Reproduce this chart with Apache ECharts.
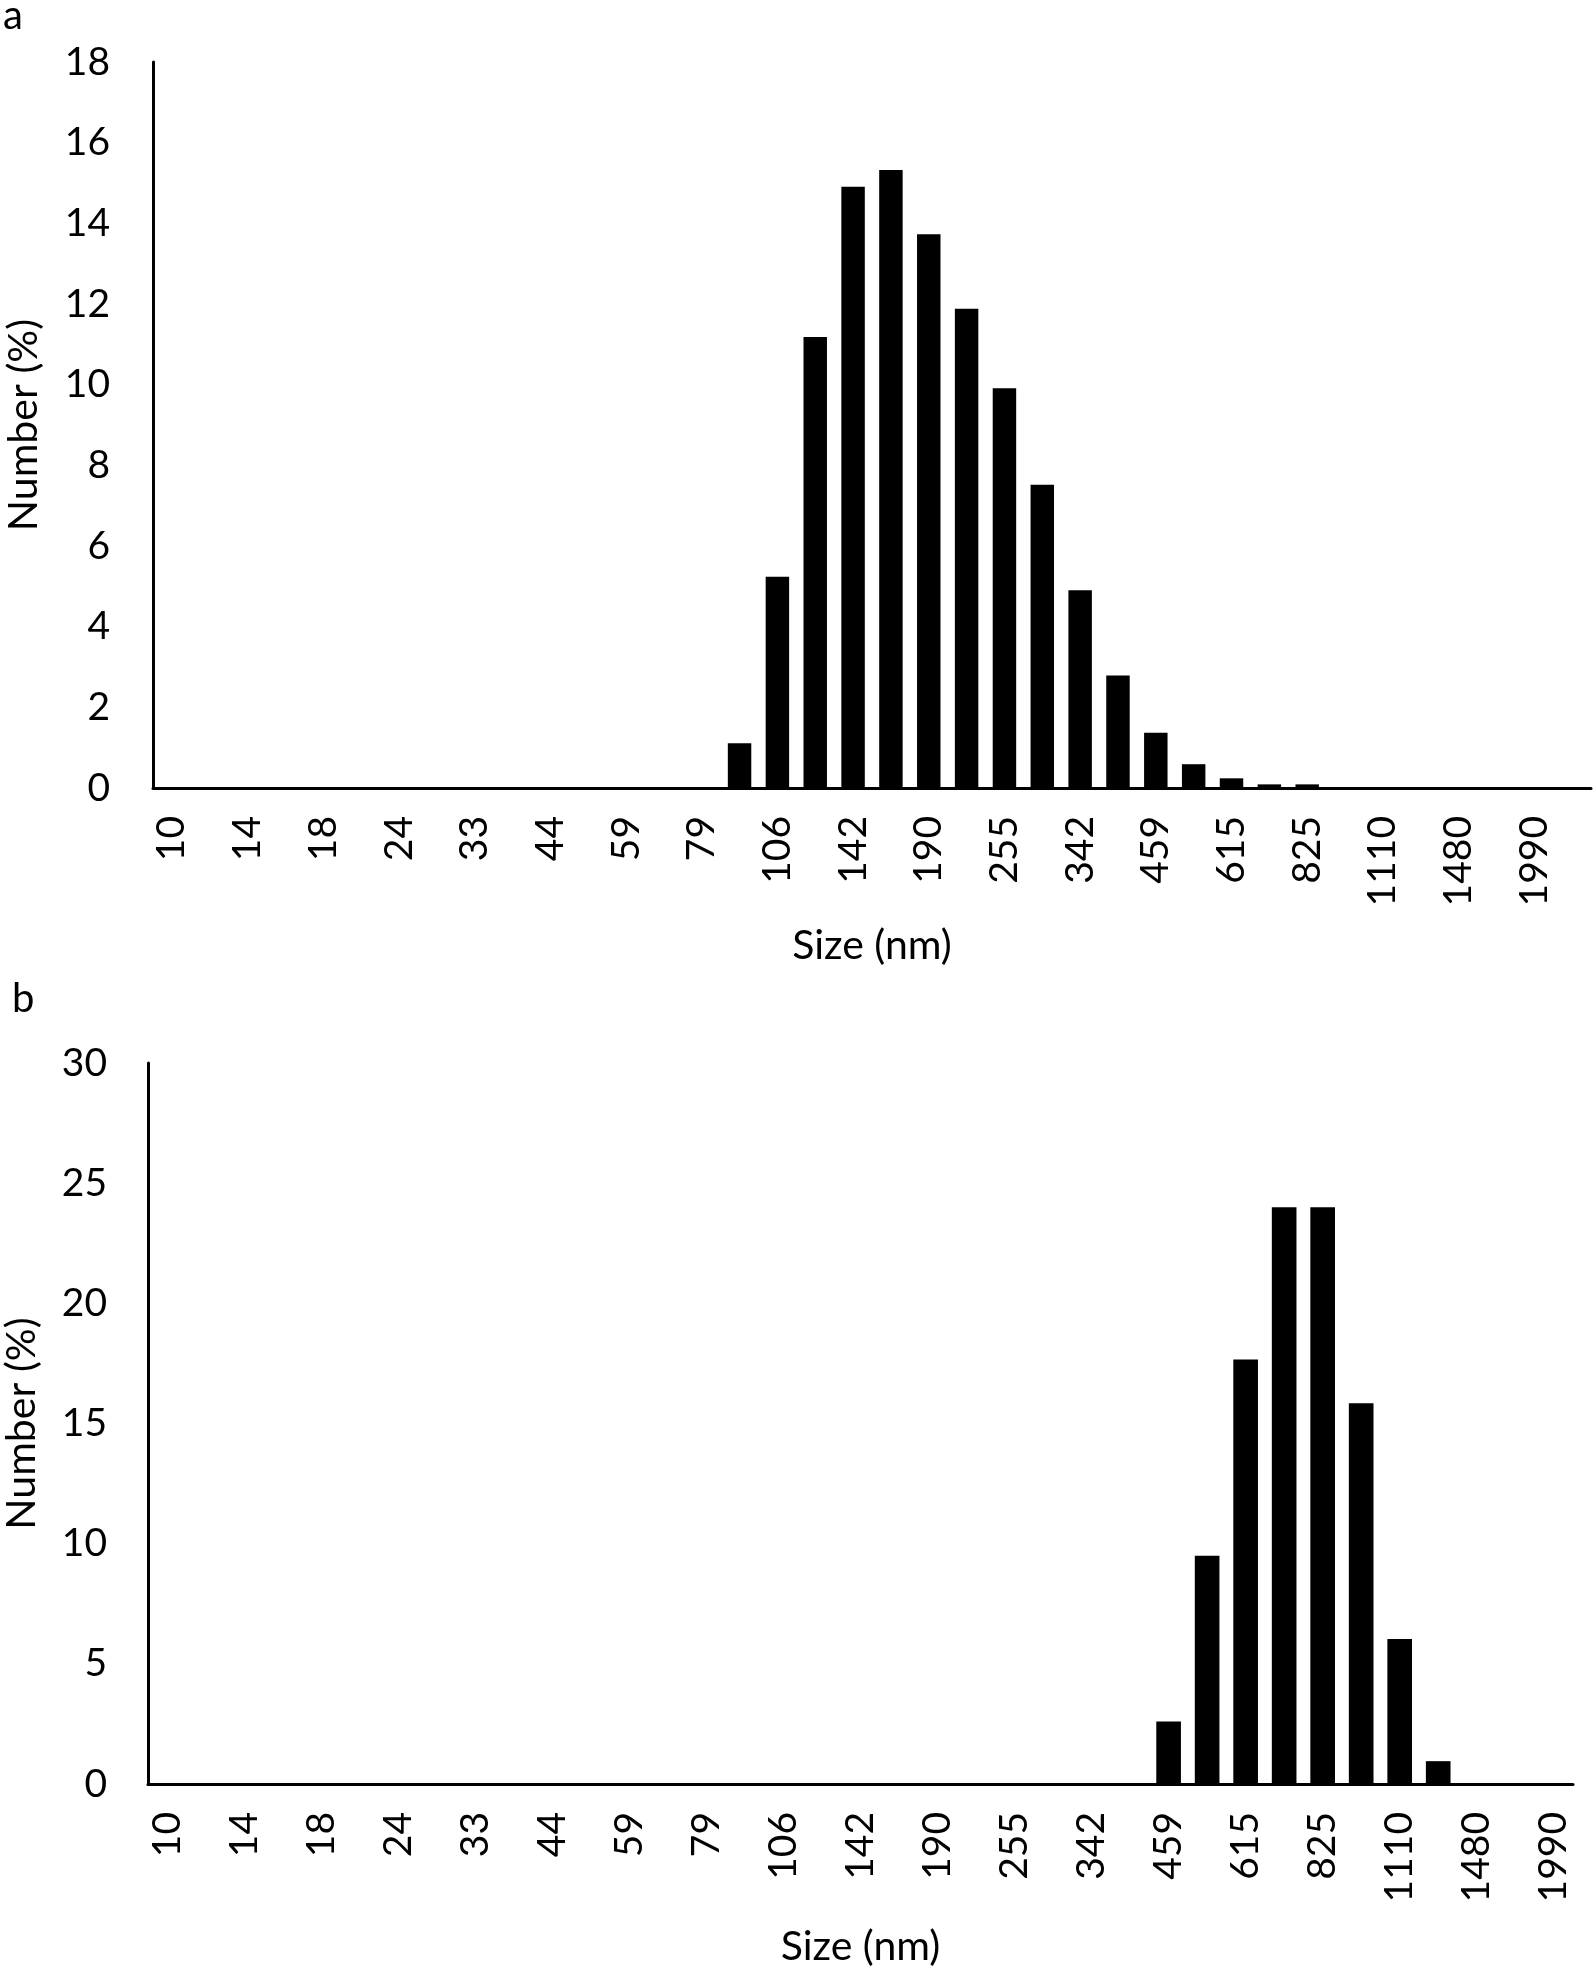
<!DOCTYPE html>
<html>
<head>
<meta charset="utf-8">
<script src="https://cdn.jsdelivr.net/npm/echarts@6/dist/echarts.min.js"></script>
<style>
html,body{margin:0;padding:0;background:#fff;}
#c{width:1594px;height:1975px;}
</style>
</head>
<body>
<div id="c"></div>
<script>
// Size bins (nm) — panel a has 38 bins, panel b 37 bins
const sizesA = ['10','12','14','16','18','21','24','28','33','38','44','51','59','68','79','91','106','122','142','164','190','220','255','295','342','396','459','531','615','712','825','955','1110','1280','1480','1720','1990','2310'];
const sizesB = ['10','12','14','16','18','21','24','28','33','38','44','51','59','68','79','91','106','122','142','164','190','220','255','295','342','396','459','531','615','712','825','955','1110','1280','1480','1720','1990'];
// Number (%) per bin
const numberA = [0,0,0,0,0,0,0,0,0,0,0,0,0,0,0,
  1.11,5.24,11.18,14.91,15.32,13.73,11.88,9.91,7.52,4.90,2.79,1.37,0.59,0.24,0.09,0.09,
  0,0,0,0,0,0,0];
const numberB = [0,0,0,0,0,0,0,0,0,0,0,0,0,0,0,0,0,0,0,0,0,0,0,0,0,0,
  2.6,9.5,17.66,24.0,24.0,15.84,6.03,0.95,
  0,0,0];
const yTicksA = {min:0, max:18, interval:2};
const yTicksB = {min:0, max:30, interval:5};
const panelLabels = ['a','b'];
const xTitle = 'Size (nm)';
const yTitle = 'Number (%)';

const FONT = 'Lato';
const FS = 39;
const txt = {fontFamily: FONT, fontSize: FS, color: '#000'};
const nameTxt = {fontFamily: FONT, fontSize: 41, color: '#000'};

function xAx(idx, data, gap){
  return {
    type:'category', gridIndex: idx, data: data,
    boundaryGap: true,
    axisLine:{show:true, lineStyle:{color:'#000', width:3}},
    axisTick:{show:false},
    splitLine:{show:false},
    axisLabel:Object.assign({interval:1, rotate:90, margin:28}, txt),
    name: xTitle, nameLocation:'middle', nameGap: gap,
    nameTextStyle: Object.assign({}, nameTxt)
  };
}
function yAx(idx, t, margin, gap){
  return {
    type:'value', gridIndex: idx, min:t.min, max:t.max, interval:t.interval,
    axisLine:{show:true, lineStyle:{color:'#000', width:3}},
    axisTick:{show:false},
    splitLine:{show:false},
    axisLabel:Object.assign({margin: margin}, txt),
    name: yTitle, nameLocation:'middle', nameGap: gap, nameRotate: 90,
    nameTextStyle: Object.assign({}, nameTxt)
  };
}

const chart = echarts.init(document.getElementById('c'), null, {renderer:'canvas'});
chart.setOption({
  animation:false,
  backgroundColor:'#fff',
  grid:[
    {left:153, top:62, width:1438, height:726, containLabel:false, outerBoundsMode:'none'},
    {left:148, top:1063, width:1425, height:721, containLabel:false, outerBoundsMode:'none'}
  ],
  xAxis:[xAx(0, sizesA, 137), xAx(1, sizesB, 142)],
  yAxis:[yAx(0, yTicksA, 43, 109), yAx(1, yTicksB, 41, 106)],
  series:[
    {type:'bar', xAxisIndex:0, yAxisIndex:0, data:numberA, barCategoryGap:'38%',
     itemStyle:{color:'#000'}},
    {type:'bar', xAxisIndex:1, yAxisIndex:1, data:numberB, barCategoryGap:'36%',
     itemStyle:{color:'#000'}}
  ],
  graphic:[
    {type:'text', left:3, top:-4, style:{text:panelLabels[0], font:'40px Lato', fill:'#000'}},
    {type:'text', left:12, top:979, style:{text:panelLabels[1], font:'40px Lato', fill:'#000'}}
  ]
});
</script>
</body>
</html>
